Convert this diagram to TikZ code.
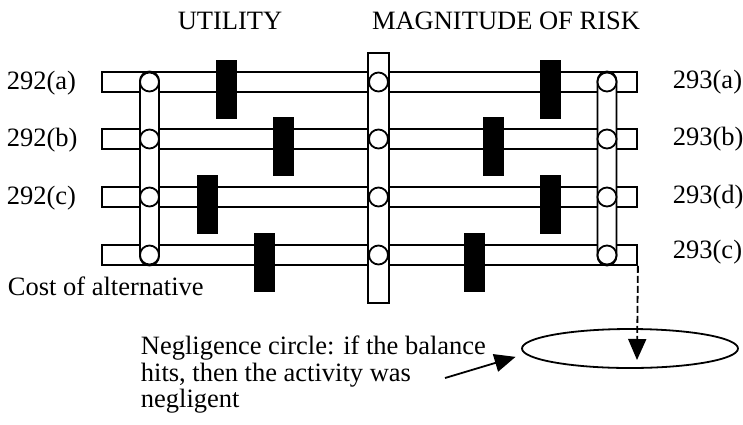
\documentclass[tikz,border=0pt]{standalone}
\usepackage{fontspec}
\setmainfont{Liberation Serif}
\usetikzlibrary{arrows.meta, shapes.geometric}

\begin{document}
\begin{tikzpicture}[x=1pt,y=-1pt,line width=1.8pt,
     bar/.style={rectangle, draw, fill=white, minimum width=535pt, minimum height=20pt, inner sep=0pt},
     col/.style={rectangle, draw, fill=white, minimum width=19pt, minimum height=194pt, inner sep=0pt},
     knob/.style={circle, draw, fill=white, minimum size=19pt, inner sep=0pt},
     blk/.style={rectangle, fill=black, minimum width=21pt, minimum height=59pt, inner sep=0pt},
     lbl/.style={inner sep=0pt, font=\fontsize{26.5}{26.5}\selectfont},
     arrow/.style={-{Triangle[length=21pt,width=18pt]}}]
     \useasboundingbox (0,0) rectangle (743,424);
     \node (util) [lbl, anchor=base] at (230,29) {UTILITY};\node (risk) [lbl, anchor=base] at (506,29) {MAGNITUDE OF RISK};
     % the four balance rows
     \foreach \i/\y in {1/82,2/139,3/197,4/255} \node (row\i) [bar] at (369.5,\y) {};
     \node (ucol) [col, rounded corners=9.5pt] at (149.5,168.5) {};\node (mcol) [col, minimum width=21pt, minimum height=250pt] at (378.5,178) {};
     \node (rcol) [col, rounded corners=9.5pt] at (607,168.5) {};
     \foreach \i/\y in {1/82,2/139,3/197,4/255} {\node (u\i) [knob] at (149.5,\y) {};\node (m\i) [knob] at (378.5,\y) {};\node (r\i) [knob] at (607,\y) {};}
     % weights on each side of the scale
     \foreach \i/\y/\a/\b in {1/82/226/550,2/139/283/493,3/197/207/550,4/255/264.5/474}
       {\node (ub\i) [blk] at (\a,\y+7.5) {};\node (rb\i) [blk] at (\b,\y+7.5) {};}
     \node (l1) [lbl, anchor=base west] at (6,89) {292(a)};\node (l2) [lbl, anchor=base west] at (6,146) {292(b)};
     \node (l3) [lbl, anchor=base west] at (6,204) {292(c)};\node (cost) [lbl, anchor=base west] at (7,295) {Cost of alternative};
     \node (r1l) [lbl, anchor=base west] at (672,88) {293(a)};\node (r2l) [lbl, anchor=base west] at (672,145) {293(b)};
     \node (r3l) [lbl, anchor=base west] at (672,203) {293(d)};\node (r4l) [lbl, anchor=base west] at (672,258) {293(c)};
     % negligence circle
     \node (negcirc) [ellipse, draw, minimum width=216pt, minimum height=39pt, inner sep=0pt] at (630,348.5) {};
     \node (negtext) [lbl, anchor=north west, align=left] at (140,335) {Negligence circle: if the balance\\hits, then the activity was\\negligent};
     \coordinate (drop) at (637,360);\coordinate (tail) at (445,378);
     \draw [arrow, dashed, dash pattern=on 7pt off 3pt] (row4.south east) -- (drop);
     \draw [arrow, shorten >=10pt] (tail) -- (negcirc.183);
\end{tikzpicture}
\end{document}
